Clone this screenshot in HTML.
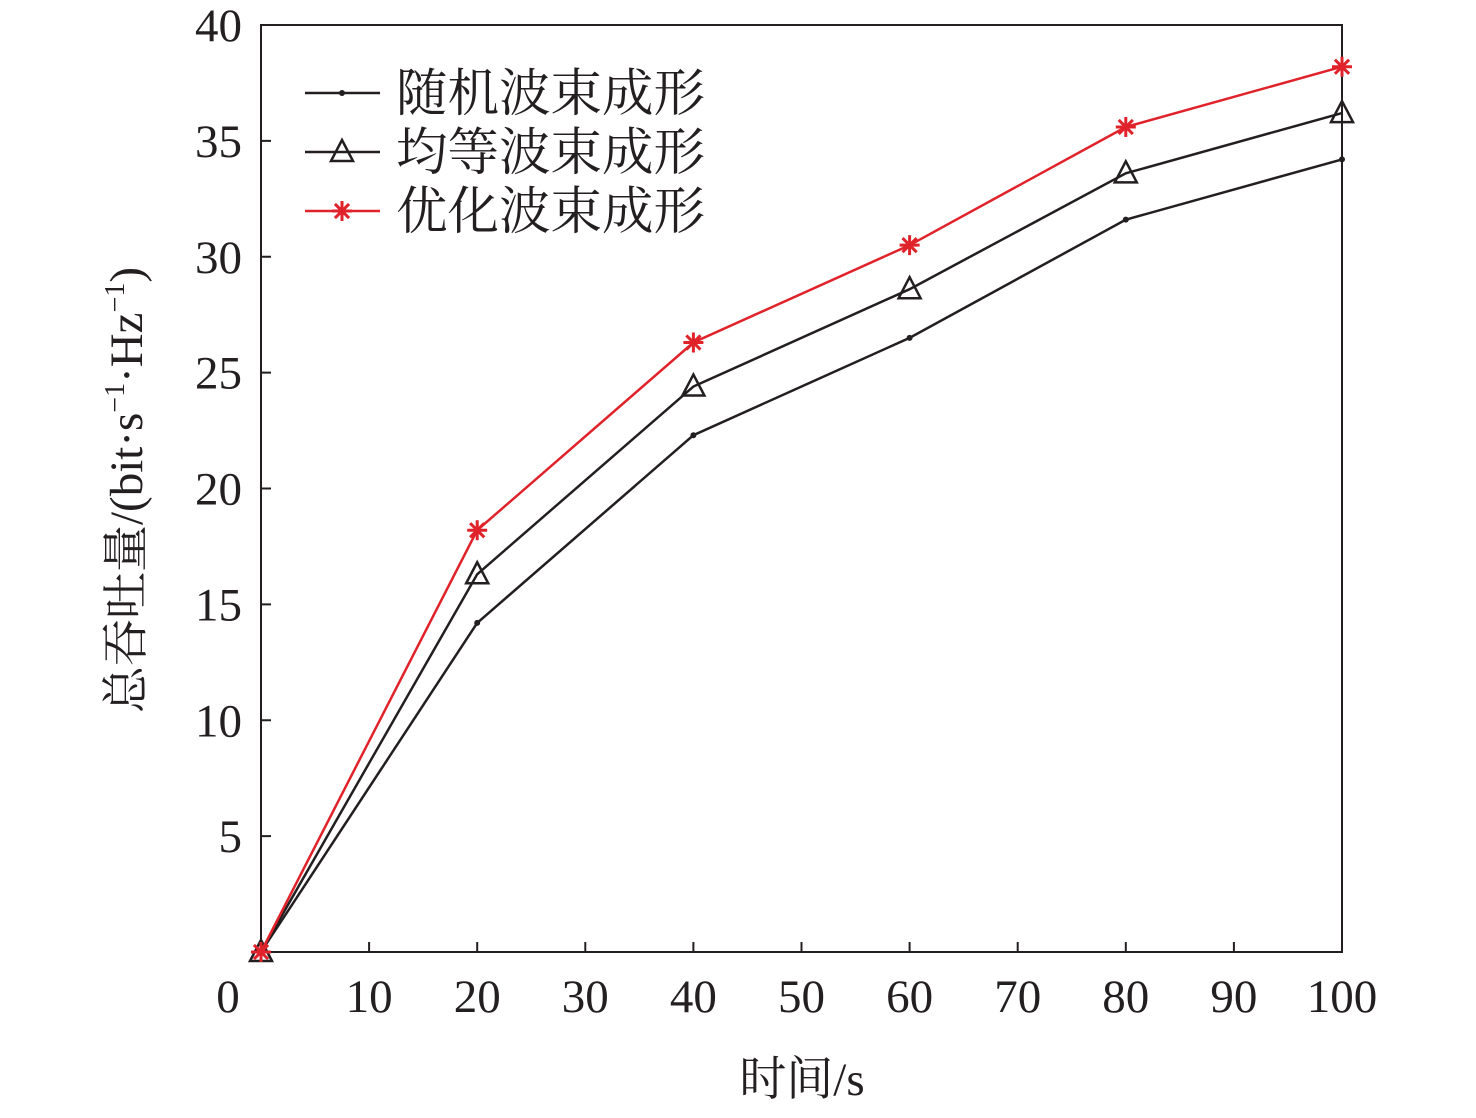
<!DOCTYPE html>
<html><head><meta charset="utf-8"><style>
body{margin:0;background:#fff}
svg text{font-family:"Liberation Serif","Noto Serif CJK SC",serif;fill:#231f20}
</style></head><body>
<svg id="c" width="1476" height="1113"></svg>
<script>
const xVals=[0,20,40,60,80,100];
const randomSeries=[0,14.2,22.3,26.5,31.6,34.2];
const uniformSeries=[0,16.3,24.4,28.6,33.6,36.2];
const optimSeries=[0,18.2,26.3,30.5,35.6,38.2];
const xTicks=[10,20,30,40,50,60,70,80,90,100];
const yTicks=[5,10,15,20,25,30,35,40];
const L=261,R=1342,T=25,B=952;
const sx=v=>L+(R-L)*v/100, sy=v=>B-(B-T)*v/40;
const svg=document.getElementById('c');const NS='http://www.w3.org/2000/svg';
function el(t,a,p){const e=document.createElementNS(NS,t);for(const k in a)e.setAttribute(k,a[k]);(p||svg).appendChild(e);return e;}
const frame=el('rect',{x:L,y:T,width:R-L,height:B-T,fill:'none',stroke:'#231f20','stroke-width':2});


xTicks.forEach(v=>{const t=el('line',{x1:sx(v),x2:sx(v),y1:B,y2:B-10,stroke:'#231f20','stroke-width':2});


const l=el('text',{x:sx(v),y:B+60,'font-size':47,'text-anchor':'middle'});l.textContent=v;

});
const z=el('text',{x:228,y:B+60,'font-size':47,'text-anchor':'middle'});z.textContent='0';


yTicks.forEach(v=>{const t=el('line',{x1:L,x2:L+10,y1:sy(v),y2:sy(v),stroke:'#231f20','stroke-width':2});


const l=el('text',{x:242,y:sy(v)+16,'font-size':47,'text-anchor':'end'});l.textContent=v;

});
const xt=el('text',{x:802,y:1095,'font-size':47,'text-anchor':'middle'});xt.textContent='时间/s';


const yt=el('text',{transform:'translate(142,490) rotate(-90)','font-size':47,'text-anchor':'middle'});
yt.innerHTML='总吞吐量/(bit·s<tspan dy="-18" font-size="28">−1</tspan><tspan dy="18">·Hz</tspan><tspan dy="-18" font-size="28">−1</tspan><tspan dy="18">)</tspan>';


function marker(type,x,y,col,g){
 if(type==='dot')el('circle',{cx:x,cy:y,r:3,fill:col},g);
 else if(type==='tri')el('polygon',{points:`${x},${y-12} ${x-11},${y+9} ${x+11},${y+9}`,fill:'none',stroke:col,'stroke-width':2.5},g);
 else{for(let a=0;a<4;a++){const r=a*Math.PI/4;el('line',{x1:x-10*Math.cos(r),y1:y-10*Math.sin(r),x2:x+10*Math.cos(r),y2:y+10*Math.sin(r),stroke:col,'stroke-width':3},g);}}
}
const series=[[randomSeries,'#231f20','dot','随机波束成形','series-random'],[uniformSeries,'#231f20','tri','均等波束成形','series-uniform'],[optimSeries,'#e0232b','star','优化波束成形','series-optimized']];
series.forEach((s,i)=>{const g=el('g',{});
 
 
 el('polyline',{points:s[0].map((v,j)=>sx(xVals[j])+','+sy(v)).join(' '),fill:'none',stroke:s[1],'stroke-width':2.5},g);
 s[0].forEach((v,j)=>marker(s[2],sx(xVals[j]),sy(v),s[1],g));
 const ly=93+i*59;const lg=el('g',{});
 
 
 el('line',{x1:305,x2:380,y1:ly,y2:ly,stroke:s[1],'stroke-width':2.5},lg);
 marker(s[2],342,ly,s[1],lg);
 const t=el('text',{x:396,y:ly+18,'font-size':51.5},lg);t.textContent=s[3];
});
</script></body></html>
